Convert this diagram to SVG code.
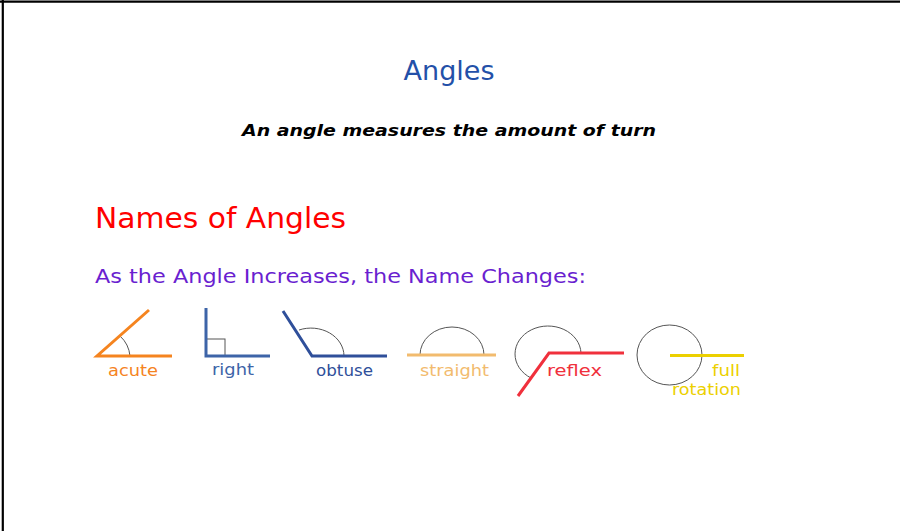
<svg xmlns="http://www.w3.org/2000/svg" width="900" height="531" viewBox="0 0 900 531">
<style>
.lbl{font-family:"DejaVu Sans","Liberation Sans",sans-serif;font-size:15px}
.arc{fill:none;stroke:#555;stroke-width:1}
.ln{fill:none;stroke-width:3;stroke-linecap:butt}
</style>
<rect width="900" height="531" fill="#fff"/>
<g id="border" stroke="#000" stroke-width="2.2">
<line x1="0" y1="1.7" x2="900" y2="1.7"/>
<line x1="2.8" y1="0" x2="2.8" y2="531"/>
</g>
<g id="title">
<text x="449" y="80" text-anchor="middle" font-family="DejaVu Sans, sans-serif" font-size="27" fill="#2350a8">Angles</text>
<text x="449" y="136" text-anchor="middle" font-family="DejaVu Sans, sans-serif" font-size="16" font-weight="bold" font-style="italic" fill="#000" textLength="414" lengthAdjust="spacingAndGlyphs">An angle measures the amount of turn</text>
</g>
<g id="heading">
<text x="95" y="228" font-family="DejaVu Sans, sans-serif" font-size="28" fill="#ff0000" textLength="251" lengthAdjust="spacingAndGlyphs">Names of Angles</text>
<text x="95" y="283" font-family="DejaVu Sans, sans-serif" font-size="19" fill="#6a1fd0" textLength="491" lengthAdjust="spacingAndGlyphs">As the Angle Increases, the Name Changes:</text>
</g>
<g id="acute">
<path class="arc" d="M120,336 A31,31 0 0 1 130,356"/>
<path class="ln" stroke="#f5841f" d="M149,310 L97,356 L172,356"/>
<text class="lbl" x="108" y="376" fill="#f5841f" textLength="50" lengthAdjust="spacingAndGlyphs">acute</text>
</g>
<g id="right">
<rect class="arc" x="206" y="339" width="19" height="17"/>
<path class="ln" stroke="#3d64a8" d="M206,308 L206,356 L270,356"/>
<text class="lbl" x="212" y="375" fill="#3d64a8" textLength="42" lengthAdjust="spacingAndGlyphs">right</text>
</g>
<g id="obtuse">
<path class="arc" d="M299,330 A33,28 0 0 1 344,356"/>
<path class="ln" stroke="#2f4f9a" d="M283,311 L312,356 L387,356"/>
<text class="lbl" x="316" y="376" fill="#2f4f9a" textLength="57" lengthAdjust="spacingAndGlyphs">obtuse</text>
</g>
<g id="straight">
<path class="arc" d="M420,355 A32,28 0 0 1 484,355"/>
<path class="ln" stroke="#f2bb6e" d="M407,355 L496,355"/>
<text class="lbl" x="420" y="376" fill="#f2bb6e" textLength="69" lengthAdjust="spacingAndGlyphs">straight</text>
</g>
<g id="reflex">
<path class="arc" d="M581,353 A33,28 0 1 0 531,378"/>
<path class="ln" stroke="#f0303c" d="M624,353 L549,353 L518,396"/>
<text class="lbl" x="547" y="376" fill="#f0303c" textLength="55" lengthAdjust="spacingAndGlyphs">reflex</text>
</g>
<g id="full-rotation">
<ellipse class="arc" cx="669.5" cy="355" rx="32.5" ry="30"/>
<path class="ln" stroke="#ecd000" d="M670,355.5 L744,355.5"/>
<text class="lbl" x="740" y="376" text-anchor="end" fill="#ecd000" textLength="28" lengthAdjust="spacingAndGlyphs">full</text>
<text class="lbl" x="741" y="395" text-anchor="end" fill="#ecd000" textLength="69" lengthAdjust="spacingAndGlyphs">rotation</text>
</g>
</svg>
